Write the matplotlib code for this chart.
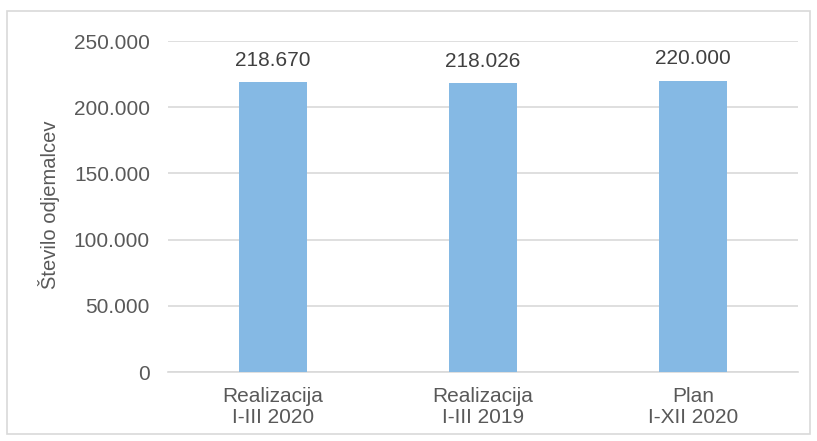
import matplotlib
matplotlib.use("Agg")
import matplotlib.pyplot as plt
from matplotlib.patches import Rectangle
from matplotlib.ticker import FuncFormatter

categories = ["Realizacija\nI-III 2020", "Realizacija\nI-III 2019", "Plan\nI-XII 2020"]
values = [218670, 218026, 220000]
yticks = [0, 50000, 100000, 150000, 200000, 250000]

plt.rcParams['font.family'] = ['Liberation Sans', 'DejaVu Sans']

W, H = 817, 441
fig = plt.figure(figsize=(W / 100, H / 100), dpi=100)
ax = fig.add_axes([168 / W, 1 - 372 / H, (798 - 168) / W, (372 - 41) / H])

# outer chart border
fig.patches.append(Rectangle((7 / W, 1 - 434 / H), (810 - 7) / W, (434 - 11) / H,
                             transform=fig.transFigure, fill=False,
                             edgecolor='#d9d9d9', linewidth=1.2))

def fmt(v, pos=None):
    return f"{int(v):,}".replace(",", ".")

x = range(len(categories))
bars = ax.bar(x, values, width=0.32, color='#85B9E4', zorder=3)
ax.set_xlim(-0.5, len(categories) - 0.5)
ax.set_ylim(0, 250000)
ax.set_yticks(yticks)
ax.yaxis.set_major_formatter(FuncFormatter(fmt))
ax.grid(axis='y', color='#d9d9d9', linewidth=1.2, zorder=0)
for s in ['top', 'right', 'left']:
    ax.spines[s].set_visible(False)
ax.spines['bottom'].set_color('#d9d9d9')
ax.spines['bottom'].set_linewidth(1.2)
ax.tick_params(axis='y', length=0, pad=13, labelsize=15, labelcolor='#595959')
ax.tick_params(axis='x', length=0, pad=11, labelsize=15, labelcolor='#595959')
ax.set_xticks(list(x))
ax.set_xticklabels(categories, linespacing=1.1)

for b, v in zip(bars, values):
    ax.annotate(fmt(v), (b.get_x() + b.get_width() / 2, v), xytext=(0, 9),
                textcoords='offset points', ha='center', va='bottom',
                fontsize=15, color='#404040')

ax.set_ylabel("Število odjemalcev", fontsize=14.5, color='#595959')
ax.yaxis.set_label_coords(-0.172, 0.505)

fig.savefig("out.png", dpi=100)
